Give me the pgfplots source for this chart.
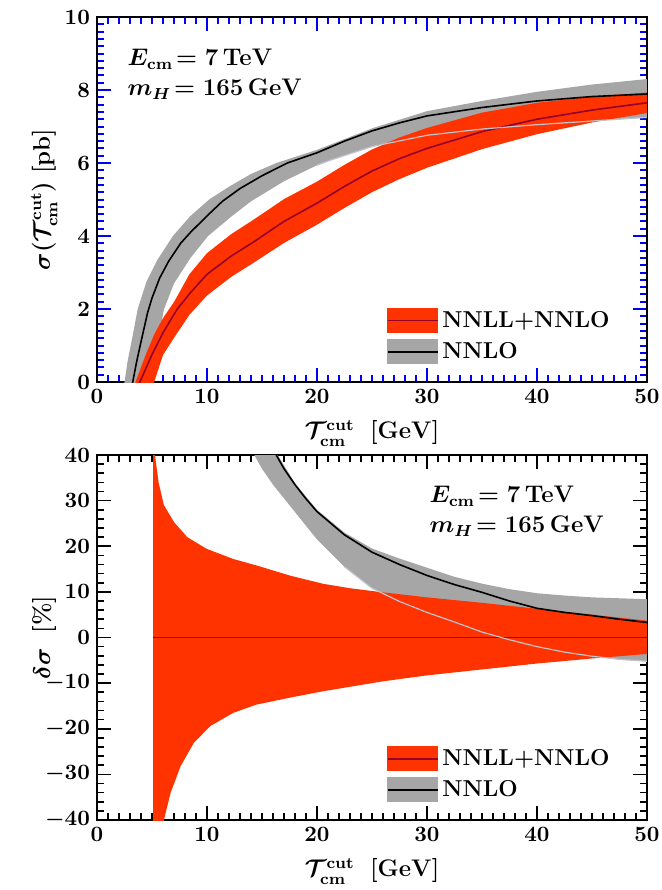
\documentclass[border=0pt]{standalone}
\usepackage{pgfplots}
\pgfplotsset{compat=1.18}
\definecolor{bandred}{RGB}{255,51,0}
\definecolor{linered}{RGB}{150,0,45}
\definecolor{bandgray}{RGB}{166,166,166}
\definecolor{thingray}{RGB}{195,195,205}
\pgfplotsset{
  myaxis/.style={
    width=275pt, height=182.5pt, scale only axis,
    xmin=0, xmax=50, xtick={0,10,...,50}, minor x tick num=9,
    axis line style={line width=0.9pt},
    major tick length=7pt, minor tick length=3.5pt,
    tick label style={font=\fontsize{11}{13}\selectfont\boldmath},
    label style={font=\fontsize{12}{14}\selectfont\bfseries\boldmath},
    xlabel={$\mathcal{T}_{\mathrm{cm}}^{\mathrm{cut}}\;\;[\mathrm{GeV}]$},
    xlabel style={at={(axis description cs:0.5,-0.14)}, anchor=center},
    ylabel style={at={(axis description cs:-0.096,0.5)}, anchor=center},
    legend style={draw=none, fill=none, at={(0.94,0.045)}, anchor=south east,
      font=\fontsize{11.5}{13.5}\selectfont\bfseries, row sep=2pt, inner sep=0pt},
    legend cell align=left,
  }
}
\begin{document}
\begin{tikzpicture}
% ---------------- top panel ----------------
\begin{axis}[myaxis, at={(0,0)}, anchor=south west,
  xtick style={draw=blue, line width=1pt},
  ytick style={draw=blue, line width=1pt},
  ymin=0, ymax=10, ytick={0,2,...,10}, minor y tick num=9,
  ylabel={$\sigma(\mathcal{T}_{\mathrm{cm}}^{\mathrm{cut}})\;[\mathrm{pb}]$}]
\addlegendimage{legend image code/.code={\fill[bandred] (0pt,-6pt) rectangle (25pt,6pt); \draw[linered, line width=0.9pt] (0pt,0pt) -- (25pt,0pt);}}
\addlegendentry{NNLL+NNLO}
\addlegendimage{legend image code/.code={\fill[bandgray] (0pt,-6pt) rectangle (25pt,6pt); \draw[black, line width=0.9pt] (0pt,0pt) -- (25pt,0pt);}}
\addlegendentry{NNLO}
\addplot[fill=bandgray, draw=none, forget plot] coordinates {
(2.0,-0.5) (2.5,0) (2.8,0.6) (3.2,1.2) (3.7,2.0) (4.5,2.75) (5.5,3.35) (6.9,4.0)
(8.5,4.55) (10.2,5.0) (12,5.35) (14,5.7) (16.3,6.0) (20,6.36) (25,6.95) (30,7.42)
(35,7.7) (40,7.95) (45,8.15) (50,8.3)
(50,7.25) (45,7.15) (40,7.05) (35,6.93) (30,6.76) (25,6.45) (21.25,6.08) (20,5.94)
(17,5.5) (14,4.95) (12.2,4.53) (10.1,4.0) (8.5,3.4) (7.0,2.7) (6.1,2.0) (5.3,0.8)
(4.8,0) (3.8,-1)} -- cycle;
\addplot[fill=bandred, draw=none, forget plot] coordinates {
(3.3,-0.2) (3.5,0) (4.5,0.8) (5.2,1.3) (6.0,1.75) (7.0,2.19) (8.4,2.95) (10,3.53)
(12.2,4.05) (14.3,4.46) (17,5.01) (20,5.49) (22.5,5.95) (25,6.37) (27.5,6.70)
(30,6.96) (35,7.38) (40,7.65) (45,7.82) (50,7.93)
(50,7.37) (45,7.11) (40,6.79) (35,6.38) (30,5.87) (27.5,5.56) (25,5.20) (22.5,4.77)
(20,4.31) (17,3.81) (14.3,3.28) (12.2,2.88) (10,2.37) (8.4,1.84) (7.0,1.21)
(6.0,0.74) (5.2,0) (4.9,-0.3)} -- cycle;
\addplot[linered, line width=0.8pt, forget plot] coordinates {
(3.7,-0.15) (3.9,0) (5,0.75) (6,1.35) (7.3,2.0) (8.5,2.45) (10,2.95) (12.2,3.45)
(14.3,3.85) (17,4.4) (20,4.9) (22.5,5.36) (25,5.78) (27.5,6.12) (30,6.4) (35,6.86)
(40,7.2) (45,7.45) (50,7.65)};
\addplot[thingray, line width=0.6pt, forget plot] coordinates {
(20,5.94) (21.25,6.08) (25,6.45) (30,6.76) (35,6.93) (40,7.05) (45,7.15) (50,7.25)};
\addplot[black, line width=0.8pt, forget plot] coordinates {
(3.0,-0.5) (3.25,0) (3.6,0.55) (4.0,1.1) (4.6,1.9) (5.0,2.3) (5.7,2.85) (6.5,3.3)
(7.6,3.8) (8.5,4.1) (10,4.55) (11.4,4.95) (13,5.3) (15,5.65) (17.3,6.0) (20,6.28)
(22.5,6.6) (25,6.88) (27.5,7.1) (30,7.29) (35,7.52) (40,7.70) (45,7.82) (50,7.89)};
\node[anchor=north west, align=left, inner sep=0pt, font=\fontsize{12}{15}\selectfont\boldmath]
  at (rel axis cs:0.055,0.912) {$E_{\mathrm{cm}}\!=7\,\mathrm{TeV}$\\$m_H\!=165\,\mathrm{GeV}$};
\end{axis}
% ---------------- bottom panel ----------------
\begin{axis}[myaxis, at={(0,-219pt)}, anchor=south west,
  xtick style={draw=black, line width=0.8pt},
  ytick style={draw=black, line width=0.8pt},
  ymin=-40, ymax=40, ytick={-40,-30,...,40}, minor y tick num=4,
  ylabel={$\delta\sigma\;\;[\%]$}]
\addlegendimage{legend image code/.code={\fill[bandred] (0pt,-6pt) rectangle (25pt,6pt); \draw[linered, line width=0.9pt] (0pt,0pt) -- (25pt,0pt);}}
\addlegendentry{NNLL+NNLO}
\addlegendimage{legend image code/.code={\fill[bandgray] (0pt,-6pt) rectangle (25pt,6pt); \draw[black, line width=0.9pt] (0pt,0pt) -- (25pt,0pt);}}
\addlegendentry{NNLO}
\addplot[fill=bandgray, draw=none, forget plot] coordinates {
(15,46) (16.3,40.5) (18,33.8) (20,28) (22.5,23) (25,19.5) (27.5,17.3) (30,15.3)
(32.5,13.3) (35,11.8) (37.5,10.6) (40,9.7) (42.5,9.2) (45,8.8) (47.5,8.6) (50,8.4)
(50,-5.2) (47.5,-4.8) (45,-4.1) (42.5,-3.2) (40,-2.0) (37.5,-0.5) (35,1.2) (32.5,3.4)
(30,5.5) (27.5,7.9) (25,10.8) (22.5,15.5) (20,21.5) (17.5,29) (16,33.5) (15,37)
(14.3,40) (13.5,45)} -- cycle;
\addplot[fill=bandred, draw=none, forget plot] coordinates {
(5.1,60) (5.27,40) (5.6,34) (6.08,29) (7.0,25.3) (8.2,22) (10,19.4) (12.4,17.2)
(14.5,15.8) (17.5,13.6) (20.5,11.8) (23,10.8) (26,9.9) (30,8.8) (35,7.6) (40,6.3)
(45,5.0) (50,3.7)
(50,-3.6) (45,-4.6) (40,-5.7) (35,-7.0) (30,-8.3) (26,-9.6) (23,-10.8) (20.5,-11.8)
(17.5,-13.2) (14.5,-14.7) (12.4,-16.5) (10.3,-19.4) (8.8,-23.1) (7.6,-28.2)
(6.7,-34) (6.08,-40) (5.1,-60)} -- cycle;
\addplot[linered, line width=0.8pt, forget plot] coordinates {(5.1,0) (50,0)};
\addplot[thingray, line width=0.6pt, forget plot] coordinates {
(22.5,15.5) (25,10.8) (27.5,7.9) (30,5.5) (32.5,3.4) (35,1.2) (37.5,-0.5) (40,-2.0)
(42.5,-3.2) (45,-4.1) (47.5,-4.8) (50,-5.2)};
\addplot[black, line width=0.8pt, forget plot] coordinates {
(15,45) (16.3,40) (17,37) (18,33.5) (19,30.4) (20,27.6) (22.5,22.5) (25,18.7)
(27.5,16) (30,13.6) (32.5,11.6) (35,9.9) (37.5,8.0) (40,6.4) (42.5,5.5) (45,4.8)
(47.5,4.0) (50,3.3)};
\node[anchor=north west, align=left, inner sep=0pt, font=\fontsize{12}{15}\selectfont\boldmath]
  at (rel axis cs:0.604,0.915) {$E_{\mathrm{cm}}\!=7\,\mathrm{TeV}$\\$m_H\!=165\,\mathrm{GeV}$};
\end{axis}
\pgfresetboundingbox
\path (-48.5pt,-254pt) rectangle (282.5pt,191pt);
\end{tikzpicture}
\end{document}
